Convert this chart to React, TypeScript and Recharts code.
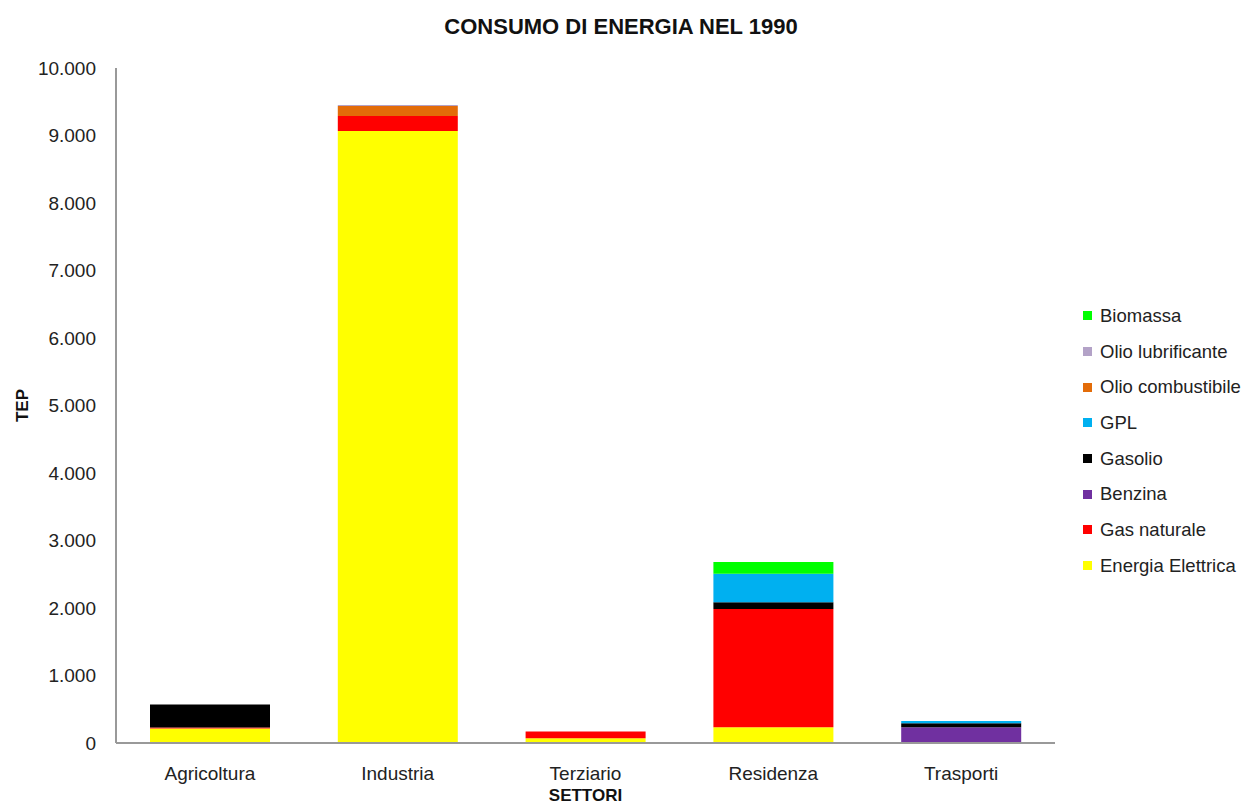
import React from 'react'
import { BarChart, Bar, XAxis, YAxis, Legend } from 'recharts'

const settori = ['Agricoltura', 'Industria', 'Terziario', 'Residenza', 'Trasporti']

const energiaElettrica = [215, 9067, 70, 232, 0]
const gasNaturale = [15, 222, 100, 1753, 0]
const benzina = [0, 0, 0, 0, 232]
const gasolio = [340, 0, 0, 99, 59]
const gpl = [0, 0, 0, 424, 34]
const olioCombustibile = [0, 148, 0, 0, 0]
const olioLubrificante = [0, 15, 0, 0, 0]
const biomassa = [0, 0, 0, 173, 0]

const yTicks = [0, 1000, 2000, 3000, 4000, 5000, 6000, 7000, 8000, 9000, 10000]

const SERIES = [
  { key: 'Energia Elettrica', values: energiaElettrica, color: '#FFFF00' },
  { key: 'Gas naturale', values: gasNaturale, color: '#FF0000' },
  { key: 'Benzina', values: benzina, color: '#7030A0' },
  { key: 'Gasolio', values: gasolio, color: '#000000' },
  { key: 'GPL', values: gpl, color: '#00B0F0' },
  { key: 'Olio combustibile', values: olioCombustibile, color: '#E36C09' },
  { key: 'Olio lubrificante', values: olioLubrificante, color: '#B3A2C7' },
  { key: 'Biomassa', values: biomassa, color: '#00FF00' },
]

const data = settori.map((s, i) => {
  const row: any = { name: s }
  SERIES.forEach(ser => { row[ser.key] = ser.values[i] })
  return row
})

const FONT = '"Liberation Sans Narrow", "Liberation Sans", Arial, sans-serif'

// 10000 -> 10.000
const fmtTick = (v: number) => String(v).replace(/\B(?=(\d{3})+(?!\d))/g, '.')

const LegendBox = () => (
  <div style={{ fontFamily: FONT, fontSize: 18.5, color: '#222' }}>
    {[...SERIES].reverse().map(s => (
      <div key={s.key} style={{ display: 'flex', alignItems: 'center', height: 35.7 }}>
        <span style={{ width: 9, height: 9, background: s.color, marginRight: 8, display: 'inline-block' }} />
        <span>{s.key}</span>
      </div>
    ))}
  </div>
)

const App = () => {
  return (
    <div style={{ position: 'absolute', left: 0, top: 0, width: 1242, height: 809, background: '#fff' }}>
      <div style={{ position: 'absolute', left: 0, width: 1242, top: 14, textAlign: 'center', fontFamily: FONT, fontWeight: 'bold', fontSize: 22, color: '#111' }}>
        CONSUMO DI ENERGIA NEL 1990
      </div>
      <BarChart width={1242} height={809} data={data} margin={{ top: 68, right: 27, left: 0, bottom: 26 }} barSize={120}>
        <XAxis
          dataKey="name"
          height={40}
          tickLine={false}
          axisLine={{ stroke: '#999', strokeWidth: 2 }}
          tick={{ fontFamily: FONT, fontSize: 19, fill: '#222' }}
          tickMargin={18}
          label={{ value: 'SETTORI', position: 'bottom', offset: 6, style: { fontFamily: FONT, fontWeight: 'bold', fontSize: 17, fill: '#111' } }}
        />
        <YAxis
          width={116}
          domain={[0, 10000]}
          ticks={yTicks}
          tickFormatter={fmtTick}
          tickLine={false}
          tickSize={0}
          tickMargin={20}
          axisLine={{ stroke: '#999', strokeWidth: 2 }}
          tick={{ fontFamily: FONT, fontSize: 19, fill: '#222' }}
          label={{ value: 'TEP', angle: -90, position: 'insideLeft', offset: 22, style: { fontFamily: FONT, fontWeight: 'bold', fontSize: 17, fill: '#111', textAnchor: 'middle' } }}
        />
        <Legend
          layout="vertical"
          align="right"
          verticalAlign="top"
          width={160}
          wrapperStyle={{ left: 1083, top: 298 }}
          content={<LegendBox />}
        />
        {SERIES.map(s => (
          <Bar key={s.key} dataKey={s.key} stackId="a" fill={s.color} isAnimationActive={false} />
        ))}
      </BarChart>
    </div>
  )
}

export default App
